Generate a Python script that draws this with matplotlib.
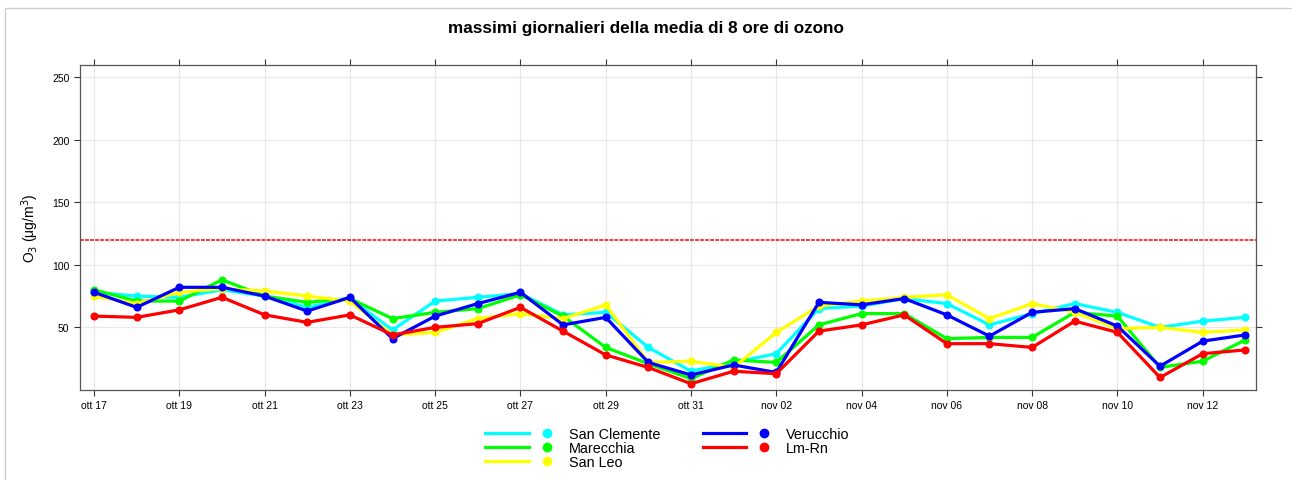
import numpy as np
import matplotlib
matplotlib.use('Agg')
import matplotlib.pyplot as plt
from matplotlib.legend_handler import HandlerTuple
from matplotlib.lines import Line2D
from matplotlib.patches import Rectangle

plt.rcParams['font.family'] = ['Liberation Sans', 'DejaVu Sans']

# Giorni (ott 17 -> nov 13)
giorni = ['ott 17', 'ott 18', 'ott 19', 'ott 20', 'ott 21', 'ott 22', 'ott 23',
          'ott 24', 'ott 25', 'ott 26', 'ott 27', 'ott 28', 'ott 29', 'ott 30',
          'ott 31', 'nov 01', 'nov 02', 'nov 03', 'nov 04', 'nov 05', 'nov 06',
          'nov 07', 'nov 08', 'nov 09', 'nov 10', 'nov 11', 'nov 12', 'nov 13']

san_clemente = [78, 75, 74, 80, 75, 66, 73, 48, 71, 74, 77, 60, 62, 34, 15, 22, 29,
                65, 67, 73, 69, 52, 61, 69, 62, 50, 55, 58]
marecchia = [80, 71, 71, 88, 75, 70, 73, 57, 62, 65, 76, 59, 34, 21, 9, 24, 22,
             52, 61, 61, 41, 42, 42, 62, 59, 18, 23, 40]
san_leo = [75, 69, 78, 81, 79, 75, 71, 44, 46, 57, 61, 57, 68, 22, 23, 18, 46,
           67, 71, 74, 76, 57, 69, 62, 49, 50, 46, 48]
verucchio = [78, 66, 82, 82, 75, 63, 74, 41, 59, 69, 78, 52, 58, 22, 12, 20, 14,
             70, 68, 73, 60, 43, 62, 65, 51, 19, 39, 44]
lm_rn = [59, 58, 64, 74, 60, 54, 60, 44, 50, 53, 66, 47, 28, 18, 5, 15, 13,
         47, 52, 60, 37, 37, 34, 55, 46, 10, 29, 32]

serie = [('San Clemente', san_clemente, '#00ffff'),
         ('Marecchia', marecchia, '#00ff00'),
         ('San Leo', san_leo, '#ffff00'),
         ('Verucchio', verucchio, '#0000ff'),
         ('Lm-Rn', lm_rn, '#ff0000')]

soglia = 120

x = np.arange(len(giorni))

fig = plt.figure(figsize=(12.92, 4.81), dpi=100)
fig.add_artist(Rectangle((0.004, -0.01), 1.2, 0.992, transform=fig.transFigure,
                         fill=False, edgecolor='#cccccc', linewidth=1))
ax = fig.add_axes([0.0619, 0.1871, 0.9102, 0.6757])

ax.axhline(soglia, color='red', linewidth=1.1, dashes=(2.5, 0.8), zorder=2)

handles = []
for nome, val, col in serie:
    ax.plot(x, val, color=col, linewidth=2.3, marker='o', markersize=4.8, zorder=3)
    handles.append((Line2D([], [], color=col, linewidth=2.3),
                    Line2D([], [], color=col, linestyle='none', marker='o', markersize=6)))

# Assi
ax.set_xlim(-0.33, 27.25)
ax.set_ylim(0, 259.5)
ax.set_xticks(x[::2])
ax.set_xticklabels(giorni[::2])
ax.set_yticks([50, 100, 150, 200, 250])
ax.tick_params(axis='both', direction='out', length=4.5, width=0.8, colors='#333333',
               labelsize=7.5, labelcolor='black', top=True, right=True, pad=3)
ax.grid(True, color='#e8e8e8', linewidth=0.9, zorder=0)
ax.set_axisbelow(True)
for s in ax.spines.values():
    s.set_color('#555555')
    s.set_linewidth(0.9)

ax.set_ylabel(r'O$_3$ ($\mathregular{\mu}$g/m$^3$)', fontsize=10, labelpad=8)
fig.suptitle('massimi giornalieri della media di 8 ore di ozono', fontsize=12.3,
             fontweight='bold', y=0.956)

fig.legend(handles, [s[0] for s in serie], ncol=2, loc='upper left',
           bbox_to_anchor=(0.370, 0.125), frameon=False, fontsize=10.4,
           handler_map={tuple: HandlerTuple(ndivide=None, pad=-0.3)},
           handlelength=5.77, handletextpad=0.0, labelspacing=0.0,
           columnspacing=2.95, borderpad=0)

plt.savefig('out.png', dpi=100)
